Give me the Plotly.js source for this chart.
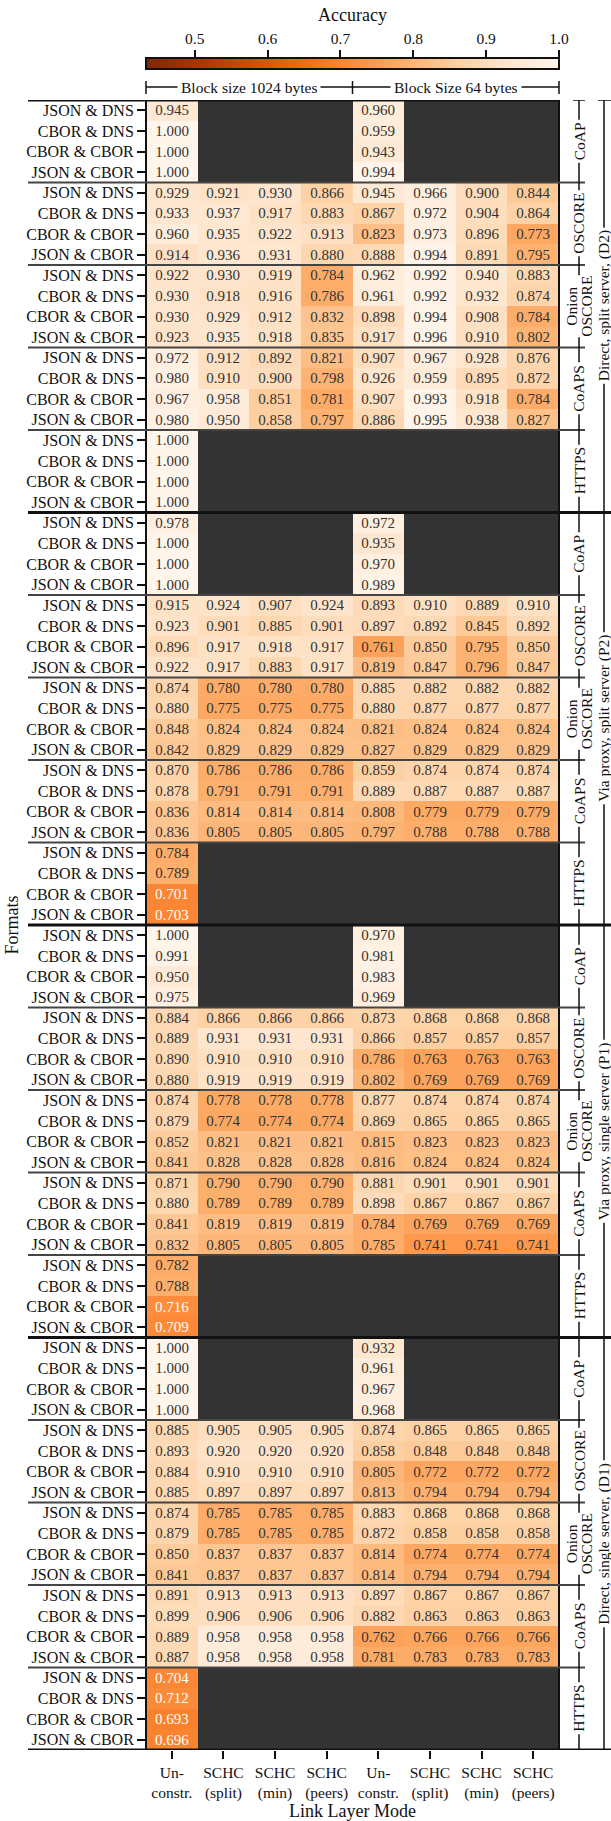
<!DOCTYPE html>
<html><head><meta charset="utf-8">
<script src="https://cdn.plot.ly/plotly-3.0.1.min.js"></script>
<style>body{margin:0;background:#fff}#chart{width:611px;height:1821px}</style>
</head><body><div id="chart"></div>
<script>
// ---------------- data ----------------
const columns = ["Un-<br>constr.","SCHC<br>(split)","SCHC<br>(min)","SCHC<br>(peers)","Un-<br>constr.","SCHC<br>(split)","SCHC<br>(min)","SCHC<br>(peers)"];
const formats = ["JSON & DNS","CBOR & DNS","CBOR & CBOR","JSON & CBOR"];
const protocols = ["CoAP","OSCORE","Onion<br>OSCORE","CoAPS","HTTPS"];
const servers = ["Direct, split server, (D2)","Via proxy, split server (P2)","Via proxy, single server (P1)","Direct, single server, (D1)"];
const blockSizes = ["Block size 1024 bytes","Block Size 64 bytes"];
const colorbarTicks = [0.5,0.6,0.7,0.8,0.9,1.0];
const N = null;

const d2_coap = [[0.945,N,N,N,0.960,N,N,N],[1.000,N,N,N,0.959,N,N,N],[1.000,N,N,N,0.943,N,N,N],[1.000,N,N,N,0.994,N,N,N]];
const d2_oscore = [[0.929,0.921,0.930,0.866,0.945,0.966,0.900,0.844],[0.933,0.937,0.917,0.883,0.867,0.972,0.904,0.864],[0.960,0.935,0.922,0.913,0.823,0.973,0.896,0.773],[0.914,0.936,0.931,0.880,0.888,0.994,0.891,0.795]];
const d2_onion = [[0.922,0.930,0.919,0.784,0.962,0.992,0.940,0.883],[0.930,0.918,0.916,0.786,0.961,0.992,0.932,0.874],[0.930,0.929,0.912,0.832,0.898,0.994,0.908,0.784],[0.923,0.935,0.918,0.835,0.917,0.996,0.910,0.802]];
const d2_coaps = [[0.972,0.912,0.892,0.821,0.907,0.967,0.928,0.876],[0.980,0.910,0.900,0.798,0.926,0.959,0.895,0.872],[0.967,0.958,0.851,0.781,0.907,0.993,0.918,0.784],[0.980,0.950,0.858,0.797,0.886,0.995,0.938,0.827]];
const d2_https = [[1.000,N,N,N,N,N,N,N],[1.000,N,N,N,N,N,N,N],[1.000,N,N,N,N,N,N,N],[1.000,N,N,N,N,N,N,N]];

const p2_coap = [[0.978,N,N,N,0.972,N,N,N],[1.000,N,N,N,0.935,N,N,N],[1.000,N,N,N,0.970,N,N,N],[1.000,N,N,N,0.989,N,N,N]];
const p2_oscore = [[0.915,0.924,0.907,0.924,0.893,0.910,0.889,0.910],[0.923,0.901,0.885,0.901,0.897,0.892,0.845,0.892],[0.896,0.917,0.918,0.917,0.761,0.850,0.795,0.850],[0.922,0.917,0.883,0.917,0.819,0.847,0.796,0.847]];
const p2_onion = [[0.874,0.780,0.780,0.780,0.885,0.882,0.882,0.882],[0.880,0.775,0.775,0.775,0.880,0.877,0.877,0.877],[0.848,0.824,0.824,0.824,0.821,0.824,0.824,0.824],[0.842,0.829,0.829,0.829,0.827,0.829,0.829,0.829]];
const p2_coaps = [[0.870,0.786,0.786,0.786,0.859,0.874,0.874,0.874],[0.878,0.791,0.791,0.791,0.889,0.887,0.887,0.887],[0.836,0.814,0.814,0.814,0.808,0.779,0.779,0.779],[0.836,0.805,0.805,0.805,0.797,0.788,0.788,0.788]];
const p2_https = [[0.784,N,N,N,N,N,N,N],[0.789,N,N,N,N,N,N,N],[0.701,N,N,N,N,N,N,N],[0.703,N,N,N,N,N,N,N]];

const p1_coap = [[1.000,N,N,N,0.970,N,N,N],[0.991,N,N,N,0.981,N,N,N],[0.950,N,N,N,0.983,N,N,N],[0.975,N,N,N,0.969,N,N,N]];
const p1_oscore = [[0.884,0.866,0.866,0.866,0.873,0.868,0.868,0.868],[0.889,0.931,0.931,0.931,0.866,0.857,0.857,0.857],[0.890,0.910,0.910,0.910,0.786,0.763,0.763,0.763],[0.880,0.919,0.919,0.919,0.802,0.769,0.769,0.769]];
const p1_onion = [[0.874,0.778,0.778,0.778,0.877,0.874,0.874,0.874],[0.879,0.774,0.774,0.774,0.869,0.865,0.865,0.865],[0.852,0.821,0.821,0.821,0.815,0.823,0.823,0.823],[0.841,0.828,0.828,0.828,0.816,0.824,0.824,0.824]];
const p1_coaps = [[0.871,0.790,0.790,0.790,0.881,0.901,0.901,0.901],[0.880,0.789,0.789,0.789,0.898,0.867,0.867,0.867],[0.841,0.819,0.819,0.819,0.784,0.769,0.769,0.769],[0.832,0.805,0.805,0.805,0.785,0.741,0.741,0.741]];
const p1_https = [[0.782,N,N,N,N,N,N,N],[0.788,N,N,N,N,N,N,N],[0.716,N,N,N,N,N,N,N],[0.709,N,N,N,N,N,N,N]];

const d1_coap = [[1.000,N,N,N,0.932,N,N,N],[1.000,N,N,N,0.961,N,N,N],[1.000,N,N,N,0.967,N,N,N],[1.000,N,N,N,0.968,N,N,N]];
const d1_oscore = [[0.885,0.905,0.905,0.905,0.874,0.865,0.865,0.865],[0.893,0.920,0.920,0.920,0.858,0.848,0.848,0.848],[0.884,0.910,0.910,0.910,0.805,0.772,0.772,0.772],[0.885,0.897,0.897,0.897,0.813,0.794,0.794,0.794]];
const d1_onion = [[0.874,0.785,0.785,0.785,0.883,0.868,0.868,0.868],[0.879,0.785,0.785,0.785,0.872,0.858,0.858,0.858],[0.850,0.837,0.837,0.837,0.814,0.774,0.774,0.774],[0.841,0.837,0.837,0.837,0.814,0.794,0.794,0.794]];
const d1_coaps = [[0.891,0.913,0.913,0.913,0.897,0.867,0.867,0.867],[0.899,0.906,0.906,0.906,0.882,0.863,0.863,0.863],[0.889,0.958,0.958,0.958,0.762,0.766,0.766,0.766],[0.887,0.958,0.958,0.958,0.781,0.783,0.783,0.783]];
const d1_https = [[0.704,N,N,N,N,N,N,N],[0.712,N,N,N,N,N,N,N],[0.693,N,N,N,N,N,N,N],[0.696,N,N,N,N,N,N,N]];

const serverBlocks = [
  [d2_coap,d2_oscore,d2_onion,d2_coaps,d2_https],
  [p2_coap,p2_oscore,p2_onion,p2_coaps,p2_https],
  [p1_coap,p1_oscore,p1_onion,p1_coaps,p1_https],
  [d1_coap,d1_oscore,d1_onion,d1_coaps,d1_https]
];

// ---------------- build ----------------
const FONT = "Liberation Serif, Times New Roman, serif";
const Lpx = 146, Rpx = 559, TOPpx = 100, BOTpx = 1750;
const px2x = x => (x - Lpx) / (Rpx - Lpx);
const px2y = y => (BOTpx - y) / BOTpx;

const z = [], text = [], yLabels = [];
serverBlocks.forEach(block => block.forEach(rows => rows.forEach((row, i) => {
  z.push(row);
  text.push(row.map(v => (v !== null && v >= 0.72) ? v.toFixed(3) : ''));
  yLabels.push(formats[i]);
})));
const nRows = z.length;
const rowIdx = yLabels.map((_, i) => i);
const colIdx = columns.map((_, i) => i);

const oranges_r = [
  [0.0,'#7f2704'],[0.125,'#a63603'],[0.25,'#d94801'],[0.375,'#f16913'],
  [0.5,'#fd8d3c'],[0.625,'#fdae6b'],[0.75,'#fdd0a2'],[0.875,'#fee6ce'],[1.0,'#fff5eb']
];

const heat = {
  type:'heatmap', z:z, x:colIdx, y:rowIdx, text:text, texttemplate:'%{text}',
  textfont:{family:FONT, size:15, color:'#333333'},
  colorscale:oranges_r, zmin:0.433, zmax:1.0, hoverinfo:'skip',
  colorbar:{orientation:'h', x:0.5, xanchor:'center', xref:'paper', y:px2y(71), yanchor:'bottom', yref:'paper',
    len:Rpx-Lpx, lenmode:'pixels', thickness:11, thicknessmode:'pixels', outlinewidth:2, outlinecolor:'#111',
    xpad:0, ypad:0, ticks:'', showticklabels:false}
};
const cbAxisTrace = {type:'scatter', x:colorbarTicks, y:colorbarTicks.map(()=>null), xaxis:'x2', yaxis:'y', mode:'markers', showlegend:false, hoverinfo:'skip'};

const shapes = [];
const line = (x0,y0,x1,y1,xref,yref,w,c) => shapes.push({type:'line',x0,y0,x1,y1,xref,yref,layer:'above',line:{width:w,color:c}});
// borders
line(px2x(28), -0.5, 1, -0.5, 'paper','y', 3, '#111');
line(px2x(28), nRows-0.5, px2x(611), nRows-0.5, 'paper','y', 3, '#111');
line(0, -0.5, 0, nRows-0.5, 'paper','y', 2, '#111');
line(1, -0.5, 1, nRows-0.5, 'paper','y', 2, '#111');
// separators
const perServer = protocols.length * formats.length;
for (let b = formats.length; b < nRows; b += formats.length) {
  if (b % perServer === 0) line(px2x(28), b-0.5, px2x(611), b-0.5, 'paper','y', 3, '#111');
  else line(px2x(28), b-0.5, px2x(585), b-0.5, 'paper','y', 2, '#444');
}
// brackets right
line(px2x(579), -0.5, px2x(579), nRows-0.5, 'paper','y', 1.5, '#111');
line(px2x(573), -0.5, px2x(585), -0.5, 'paper','y', 1.5, '#111');
line(px2x(604), -0.5, px2x(604), nRows-0.5, 'paper','y', 1.5, '#111');
line(px2x(598), -0.5, px2x(611), -0.5, 'paper','y', 1.5, '#111');
// block size bracket
line(0, px2y(87), 1, px2y(87), 'paper','paper', 1.5, '#111');
[0, 0.5, 1].forEach(x => line(x, px2y(81), x, px2y(94), 'paper','paper', 1.5, '#111'));

const annotations = [];
const ann = o => annotations.push(Object.assign({showarrow:false, xanchor:'center', yanchor:'middle'}, o));
servers.forEach((s, si) => {
  protocols.forEach((p, pi) => {
    const yc = si*perServer + pi*formats.length + (formats.length-1)/2;
    const parts = p.split('<br>');
    // draw last line first (with white box hiding the bracket), earlier lines on top without box
    for (let k = parts.length - 1; k >= 0; k--) {
      const off = (k - (parts.length-1)/2) * 15;
      const boxed = (k === parts.length - 1);
      ann({text:parts[k], x:px2x(579 + off), xref:'paper', y:yc, yref:'y', textangle:-90,
        bgcolor: boxed ? 'white' : 'rgba(0,0,0,0)', borderpad: parts.length > 1 ? 0 : 2,
        font:{family:FONT, size:15.5, color:'#111'}});
    }
  });
  ann({text:s, x:px2x(604), xref:'paper', y:si*perServer + (perServer-1)/2, yref:'y',
    textangle:-90, bgcolor:'white', borderpad:2, font:{family:FONT, size:15.5, color:'#111'}});
});
blockSizes.forEach((b, i) => ann({text:b, x:0.25 + 0.5*i, xref:'paper', y:px2y(87), yref:'paper',
  bgcolor:'white', borderpad:3, font:{family:FONT, size:15.5, color:'#111'}}));
z.forEach((row, r) => row.forEach((v, c) => {
  if (v !== null && v < 0.72) ann({text:v.toFixed(3), x:c, y:r, xref:'x', yref:'y',
    font:{family:FONT, size:15, color:'white'}});
}));

const layout = {
  width:611, height:1821, margin:{l:146, r:52, t:0, b:71, pad:0},
  paper_bgcolor:'white', plot_bgcolor:'#333333', showlegend:false,
  font:{family:FONT, size:15.5, color:'#111'},
  xaxis:{range:[-0.5, columns.length-0.5], tickvals:colIdx, ticktext:columns, ticks:'outside', ticklen:8, tickwidth:2, tickcolor:'#111',
    showgrid:false, zeroline:false, showline:false, title:{text:'Link Layer Mode', font:{size:18}, standoff:8}},
  yaxis:{domain:[0, (BOTpx-TOPpx)/BOTpx], range:[nRows-0.5, -0.5], tickvals:rowIdx, ticktext:yLabels, ticks:'outside', ticklen:8, tickwidth:2, tickcolor:'#111',
    tickfont:{size:16}, showgrid:false, zeroline:false, showline:false, title:{text:'Formats', font:{size:18}, standoff:2}},
  xaxis2:{overlaying:'x', side:'top', anchor:'free', position:px2y(59), range:[0.433, 1.0], tickvals:colorbarTicks,
    ticktext:colorbarTicks.map(v => v.toFixed(1)), ticks:'outside', ticklen:9, tickwidth:2, tickcolor:'#111',
    showgrid:false, zeroline:false, showline:false, title:{text:'Accuracy', font:{size:18}, standoff:2}},
  shapes:shapes, annotations:annotations
};
Plotly.newPlot('chart', [heat, cbAxisTrace], layout, {staticPlot:true, displayModeBar:false});
</script></body></html>
